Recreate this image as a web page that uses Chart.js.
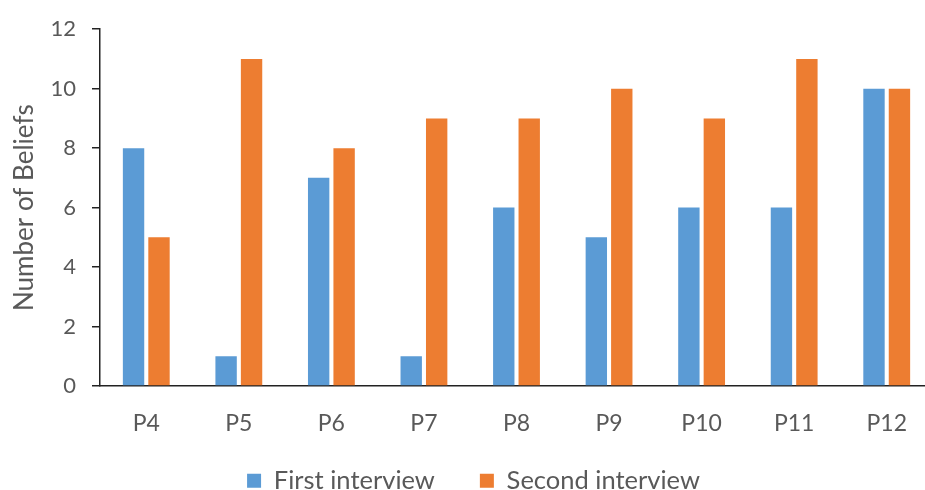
<!DOCTYPE html>
<html>
<head>
<meta charset="utf-8">
<script src="https://cdn.jsdelivr.net/npm/chart.js@4.4.0/dist/chart.umd.min.js"></script>
<style>
    html, body { margin: 0; padding: 0; background: #fff; overflow: hidden; }
    .chart-box { position: relative; width: 933px; height: 490px; }
</style>
</head>
<body>
<div class="chart-box"><canvas id="beliefs"></canvas></div>
<script>
const participants = ["P4", "P5", "P6", "P7", "P8", "P9", "P10", "P11", "P12"]
const firstInterview = [8, 1, 7, 1, 6, 5, 6, 6, 10]
const secondInterview = [5, 11, 8, 9, 9, 10, 9, 11, 10]
const yTicks = [0, 2, 4, 6, 8, 10, 12]

const textColor = "#595959"
const axisColor = "#222222"

Chart.defaults.font.family = "Lato"
Chart.defaults.font.size = 22
Chart.defaults.color = textColor

// legend gap between items is big in the original, so keep its box short
// and move it a bit after layout
const legendBox = {
    id: "legendBox",
    beforeInit(chart){
        const fit = chart.legend.fit
        chart.legend.fit = function(){
            fit.bind(chart.legend)()
            this.height = 54
        }
    },
    afterLayout(chart){
        const lg = chart.legend
        lg.top = chart.height - 67
        lg.bottom = chart.height
        lg.left += 7
        lg.right += 7
    }
}

new Chart(document.getElementById("beliefs"), {
    type: "bar",
    data: {
        labels: participants,
        datasets: [
            {
                label: "First interview",
                data: firstInterview,
                backgroundColor: "#5B9BD5"
            },
            {
                label: "Second interview",
                data: secondInterview,
                backgroundColor: "#ED7D31"
            }
        ]
    },
    options: {
        responsive: true,
        maintainAspectRatio: false,
        animation: false,
        categoryPercentage: 0.55,
        barPercentage: 0.84,
        layout: {
            padding: { top: 29, right: 0, bottom: 0, left: 0 }
        },
        plugins: {
            legend: {
                position: "bottom",
                labels: {
                    boxWidth: 14,
                    boxHeight: 14,
                    padding: 45,
                    color: textColor,
                    font: { size: 25.5 }
                }
            },
            tooltip: { enabled: false }
        },
        scales: {
            x: {
                grid: { display: false },
                border: { display: true, color: axisColor, width: 1.5 },
                ticks: { padding: 16, color: textColor, font: { size: 23 } },
                afterFit(scale){ scale.height = 50 }
            },
            y: {
                min: 0,
                max: 12,
                afterBuildTicks(axis){
                    axis.ticks = yTicks.map(v => ({ value: v }))
                },
                grid: {
                    drawOnChartArea: false,
                    drawTicks: true,
                    tickLength: 8,
                    color: axisColor,
                    lineWidth: 1.5
                },
                border: { display: true, color: axisColor, width: 1.5 },
                ticks: { padding: 16, color: textColor },
                title: {
                    display: true,
                    text: "Number of Beliefs",
                    color: textColor,
                    font: { size: 26 },
                    padding: { top: 9, bottom: 0 }
                },
                afterFit(scale){ scale.width = 100 }
            }
        }
    },
    plugins: [legendBox]
})
</script>
</body>
</html>
